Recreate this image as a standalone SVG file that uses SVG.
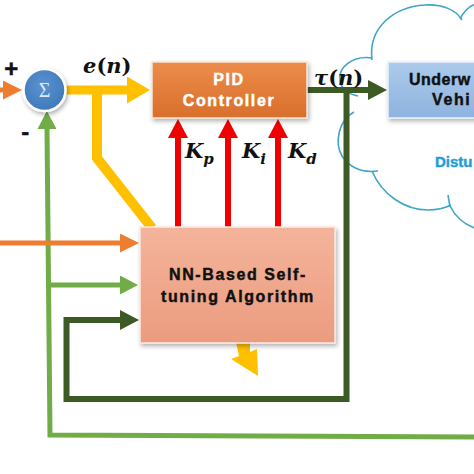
<svg xmlns="http://www.w3.org/2000/svg" width="474" height="474" viewBox="0 0 474 474">
<style>
.lbl{font-family:"Liberation Sans",Arial,sans-serif;font-weight:bold;font-size:16px;letter-spacing:1.6px;stroke-width:0.45px}
.math{font-family:"DejaVu Serif","Liberation Serif",serif;font-weight:bold;font-style:italic}
.up{font-style:normal}
.ln{fill:none;stroke-linejoin:miter}
</style>
<defs>
<linearGradient id="gPid" x1="0" y1="0" x2="0" y2="1"><stop offset="0" stop-color="#ec8c4a"/><stop offset="1" stop-color="#d96f2c"/></linearGradient>
<linearGradient id="gNn" x1="0" y1="0" x2="0" y2="1"><stop offset="0" stop-color="#f4b49b"/><stop offset="1" stop-color="#eb9c7f"/></linearGradient>
<linearGradient id="gUv" x1="0" y1="0" x2="0" y2="1"><stop offset="0" stop-color="#adcbeb"/><stop offset="1" stop-color="#8eb3de"/></linearGradient>
<radialGradient id="gSum" cx="0.45" cy="0.4" r="0.6"><stop offset="0" stop-color="#5b93d0"/><stop offset="1" stop-color="#3f79bb"/></radialGradient>
<filter id="sh" x="-10%" y="-10%" width="125%" height="130%"><feDropShadow dx="1.5" dy="2.5" stdDeviation="2" flood-color="#000" flood-opacity="0.3"/></filter>
<marker id="mY" markerUnits="userSpaceOnUse" markerWidth="23" markerHeight="27" refX="0" refY="13.5" orient="auto"><path d="M0,0 L23,13.5 L0,27 z" fill="#ffc000"/></marker>
<marker id="mR" markerUnits="userSpaceOnUse" markerWidth="19" markerHeight="20" refX="0" refY="10" orient="auto"><path d="M0,0 L19,10 L0,20 z" fill="#f00000"/></marker>
<marker id="mDG" markerUnits="userSpaceOnUse" markerWidth="19" markerHeight="20" refX="0" refY="10" orient="auto"><path d="M0,0 L19,10 L0,20 z" fill="#3b5a24"/></marker>
<marker id="mLG" markerUnits="userSpaceOnUse" markerWidth="18" markerHeight="19" refX="0" refY="9.5" orient="auto"><path d="M0,0 L18,9.5 L0,19 z" fill="#70ad47"/></marker>
<marker id="mO" markerUnits="userSpaceOnUse" markerWidth="19" markerHeight="19" refX="0" refY="9.5" orient="auto"><path d="M0,0 L19,9.5 L0,19 z" fill="#ed7d31"/></marker>
</defs>
<rect width="474" height="474" fill="#ffffff"/>

<g id="cloud" fill="none" stroke="#3ea6c6" stroke-width="1.6">
<path d="M372 60 C368 28 393 7 425 5 C443 4 456 10 462 20"/>
<path d="M460 19 C465 9 472 4 480 3"/>
<path d="M372 58 C352 55 338 68 340 80 C341 89 348 94 358 96"/>
<path d="M354 112 C339 120 334 142 342 156 C350 168 362 173 378 171"/>
<path d="M372 171 C382 195 405 210 428 210 C438 210 445 208 451 205"/>
<path d="M448 195 L450 207"/>
<path d="M450 206 C456 218 466 226 480 230"/>
</g>

<g id="connectors">
<path class="ln" d="M97 90 L97 158 L152 228" stroke="#ffc000" stroke-width="10"/>
<path class="ln" d="M-2 90 L3 90" stroke="#ed7d31" stroke-width="5" marker-end="url(#mO)"/>
<path class="ln" d="M62 90 L127 90" stroke="#ffc000" stroke-width="9" marker-end="url(#mY)"/>
<path class="ln" d="M178 228 L178 138" stroke="#f00000" stroke-width="6" marker-end="url(#mR)"/>
<path class="ln" d="M228 228 L228 138" stroke="#f00000" stroke-width="6" marker-end="url(#mR)"/>
<path class="ln" d="M278 228 L278 138" stroke="#f00000" stroke-width="6" marker-end="url(#mR)"/>
<path class="ln" d="M305 90 L368 90" stroke="#3b5a24" stroke-width="6" marker-end="url(#mDG)"/>
<path class="ln" d="M346.5 90 L346.5 399 L66.5 399 L66.5 320 L120 320" stroke="#3b5a24" stroke-width="6" marker-end="url(#mDG)"/>
<path class="ln" d="M476 437 L50 435 L47 129" stroke="#70ad47" stroke-width="5" marker-end="url(#mLG)"/>
<path class="ln" d="M49 285 L120 285" stroke="#70ad47" stroke-width="5" marker-end="url(#mLG)"/>
<path class="ln" d="M-2 243 L120 243" stroke="#ed7d31" stroke-width="5" marker-end="url(#mO)"/>
<polygon points="236,342 250,342 250,352 257,349 258,376 231,359 239,356" fill="#ffc000"/>
</g>

<g id="sum">
<circle cx="44.5" cy="90" r="21" fill="url(#gSum)" stroke="#ffffff" stroke-width="2.5" filter="url(#sh)"/>
<text x="44.5" y="97" text-anchor="middle" font-family="'Liberation Serif',serif" font-size="20" fill="#dfe9f6">Σ</text>
</g>
<text x="12" y="77" text-anchor="middle" class="lbl" style="font-size:24px" fill="#111" stroke="#111">+</text>
<text x="26" y="140" text-anchor="middle" class="lbl" style="font-size:24px" fill="#111" stroke="#111">-</text>

<text class="math" x="83" y="73" font-size="21" fill="#111">e<tspan class="up">(</tspan>n<tspan class="up">)</tspan></text>
<text class="math" x="314" y="85" font-size="21" fill="#111">τ<tspan class="up">(</tspan>n<tspan class="up">)</tspan></text>
<text class="math" x="185" y="158" font-size="21" fill="#111">K<tspan font-size="15" dy="6">p</tspan></text>
<text class="math" x="242" y="158" font-size="21" fill="#111">K<tspan font-size="15" dy="6">i</tspan></text>
<text class="math" x="288" y="158" font-size="21" fill="#111">K<tspan font-size="15" dy="6">d</tspan></text>

<g id="pid">
<rect x="152" y="62" width="155" height="56" fill="url(#gPid)" stroke="#fbe3d2" stroke-width="1.5" filter="url(#sh)"/>
<text class="lbl" x="229" y="85" text-anchor="middle" fill="#ffffff" stroke="#ffffff">PID</text>
<text class="lbl" x="229" y="106" text-anchor="middle" fill="#ffffff" stroke="#ffffff">Controller</text>
</g>

<g id="nn">
<rect x="140" y="227" width="195" height="116" fill="url(#gNn)" stroke="#fde9e0" stroke-width="1.5" filter="url(#sh)"/>
<text class="lbl" x="238" y="280" text-anchor="middle" fill="#111" stroke="#111" letter-spacing="1.8">NN-Based Self-</text>
<text class="lbl" x="238" y="302" text-anchor="middle" fill="#111" stroke="#111" letter-spacing="1.8">tuning Algorithm</text>
</g>

<g id="vehicle">
<rect x="388" y="62" width="100" height="56" fill="url(#gUv)" stroke="#e9f1fa" stroke-width="1.5" filter="url(#sh)"/>
<text class="lbl" x="409" y="85" fill="#111" stroke="#111" style="letter-spacing:0.5px">Underw</text>
<text class="lbl" x="432" y="105" fill="#111" stroke="#111">Vehi</text>
</g>

<text class="lbl" x="435" y="167" fill="#1f9fd6" stroke="#1f9fd6" style="font-size:15px;letter-spacing:0">Distu</text>
</svg>
